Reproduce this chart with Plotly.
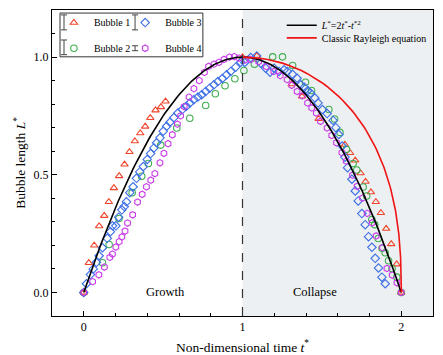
import numpy as np
import plotly.graph_objects as go

# Bubble 1 (red triangles)
t1 = [0, 0.032, 0.066, 0.097, 0.129, 0.158, 0.19, 0.223, 0.257, 0.288, 0.322, 0.356, 0.387,
      0.419, 0.452, 0.486, 0.515, 1.0, 1.09, 1.31, 1.375, 1.48, 1.645, 1.678, 1.71, 1.744,
      1.775, 1.809, 1.84, 1.872, 1.905, 1.937, 1.971, 2.0]
L1 = [0, 0.126, 0.200, 0.282, 0.326, 0.385, 0.444, 0.495, 0.544, 0.597, 0.643, 0.677, 0.705,
      0.742, 0.774, 0.788, 0.812, 1.0, 1.006, 0.885, 0.833, 0.738, 0.628, 0.593, 0.561, 0.507,
      0.471, 0.426, 0.385, 0.338, 0.271, 0.206, 0.120, 0.0]

# Bubble 2 (green circles)
t2 = [0, 0.118, 0.160, 0.222, 0.305, 0.365, 0.407, 0.485, 0.586, 0.668, 0.768, 0.829, 0.890,
      0.952, 1.009, 1.075, 1.190, 1.252, 1.316, 1.397, 1.435, 1.544, 1.580, 1.614, 1.655,
      1.697, 1.720, 1.760, 1.782, 1.815, 1.833, 1.855, 1.879, 1.899, 1.920, 1.942, 1.972, 2.0]
L2 = [0, 0.126, 0.204, 0.314, 0.424, 0.494, 0.548, 0.626, 0.699, 0.740, 0.794, 0.844, 0.878,
      0.908, 0.943, 0.970, 1.001, 1.001, 0.964, 0.893, 0.858, 0.777, 0.737, 0.680, 0.608,
      0.548, 0.520, 0.448, 0.410, 0.310, 0.288, 0.229, 0.188, 0.169, 0.135, 0.102, 0.065, 0.0]

# Bubble 3 (blue diamonds)
t3 = [0, 0.017, 0.042, 0.06, 0.08, 0.097, 0.118, 0.148, 0.168, 0.181, 0.202, 0.22, 0.24, 0.255,
      0.269, 0.29, 0.311, 0.332, 0.353, 0.375, 0.4, 0.421, 0.442, 0.459, 0.48, 0.501, 0.522,
      0.543, 0.568, 0.593, 0.621, 0.646, 0.669, 0.694, 0.719, 0.743, 0.768, 0.793, 0.82, 0.845,
      0.873, 0.9, 0.926, 0.957, 0.989, 1.014, 1.052, 1.09, 1.115, 1.146, 1.174, 1.199, 1.23,
      1.262, 1.283, 1.315, 1.344, 1.367, 1.39, 1.41, 1.428, 1.456, 1.476, 1.504, 1.533, 1.571,
      1.588, 1.607, 1.628, 1.645, 1.662, 1.689, 1.71, 1.729, 1.752, 1.773, 1.794, 1.815, 1.836,
      1.857, 1.878, 1.899]
L3 = [0, 0.037, 0.076, 0.10, 0.128, 0.156, 0.19, 0.23, 0.258, 0.283, 0.283, 0.32, 0.351, 0.365,
      0.385, 0.424, 0.449, 0.485, 0.512, 0.535, 0.565, 0.59, 0.614, 0.636, 0.657, 0.685, 0.706,
      0.723, 0.743, 0.762, 0.777, 0.791, 0.805, 0.819, 0.83, 0.84, 0.854, 0.868, 0.882, 0.896,
      0.909, 0.925, 0.939, 0.957, 0.978, 0.977, 0.998, 1.005, 0.974, 0.953, 0.936, 0.953, 0.939,
      0.946, 0.939, 0.927, 0.91, 0.882, 0.872, 0.857, 0.847, 0.826, 0.805, 0.777, 0.76, 0.731,
      0.70, 0.671, 0.622, 0.575, 0.53, 0.481, 0.431, 0.389, 0.335, 0.288, 0.237, 0.192, 0.145,
      0.104, 0.065, 0.037]

# Bubble 4 (magenta hexagons)
t4 = [0, 0.056, 0.095, 0.130, 0.164, 0.181, 0.202, 0.223, 0.240, 0.260, 0.276, 0.308, 0.339,
      0.368, 0.395, 0.422, 0.448, 0.480, 0.505, 0.531, 0.558, 0.59, 0.61, 0.633, 0.663, 0.694,
      0.728, 0.760, 0.786, 0.82, 0.852, 0.883, 0.918, 0.948, 0.978, 1.018, 1.05, 1.102, 1.15,
      1.197, 1.238, 1.281, 1.31, 1.344, 1.376, 1.41, 1.436, 1.465, 1.491, 1.533, 1.562, 1.592,
      1.626, 1.653, 1.693, 1.722, 1.756, 1.785, 1.817, 1.842, 1.882, 1.91, 1.943, 1.973, 2.0]
L4 = [0, 0.046, 0.075, 0.108, 0.149, 0.163, 0.193, 0.216, 0.236, 0.261, 0.295, 0.330, 0.384,
      0.417, 0.449, 0.477, 0.505, 0.551, 0.591, 0.632, 0.670, 0.715, 0.75, 0.79, 0.83, 0.866,
      0.90, 0.935, 0.96, 0.97, 0.978, 0.99, 1.0, 1.002, 0.996, 0.988, 0.99, 0.981, 0.96,
      0.939, 0.921, 0.904, 0.88, 0.854, 0.835, 0.805, 0.784, 0.762, 0.727, 0.699, 0.667, 0.636,
      0.594, 0.558, 0.498, 0.451, 0.401, 0.336, 0.296, 0.24, 0.19, 0.102, 0.074, 0.041, 0.0]

# model curves
t_model = np.linspace(0, 2, 201)
L_model = 2 * t_model - t_model ** 2
s = 1 - np.geomspace(1, 1e-5, 200)
t_ray = np.concatenate([1 + s, [2.0]])
L_ray = np.clip(1 - (t_ray - 1) ** 2, 0, None) ** 0.4

FONT = "Liberation Serif, Times New Roman, serif"

fig = go.Figure()

fig.add_vrect(x0=1, x1=2.2, fillcolor="#EDF0F2", line_width=0, layer="below")
fig.add_vline(x=1, line_dash="dash", line_color="#333333", line_width=1.2)

bubbles = [
    ("Bubble 1", t1, L1, "triangle-up-open", "#F0452A", "legend"),
    ("Bubble 2", t2, L2, "circle-open", "#3FAE4F", "legend2"),
    ("Bubble 3", t3, L3, "diamond-open", "#3D6FE6", "legend3"),
    ("Bubble 4", t4, L4, "hexagon-open", "#C83AE8", "legend4"),
]
for name, t, L, sym, col, lg in bubbles:
    fig.add_trace(go.Scatter(
        x=t, y=L, mode="markers", name=name, legend=lg, showlegend=True,
        marker=dict(symbol=sym, size=6.5, color=col, line=dict(width=1.1, color=col)),
    ))

fig.add_trace(go.Scatter(x=t_model, y=L_model, mode="lines", legend="legend5",
                         name="<i>L</i><sup>*</sup>=2<i>t</i><sup>*</sup>-<i>t</i><sup>*2</sup>",
                         line=dict(color="black", width=1.6)))
fig.add_trace(go.Scatter(x=t_ray, y=L_ray, mode="lines", legend="legend6",
                         name="Classic Rayleigh equation",
                         line=dict(color="#F01414", width=1.6)))

fig.add_annotation(x=0.515, y=0.0, text="Growth", showarrow=False,
                   font=dict(family=FONT, size=12.5, color="black"))
fig.add_annotation(x=1.455, y=0.0, text="Collapse", showarrow=False,
                   font=dict(family=FONT, size=12.5, color="black"))

# legend box
fig.add_shape(type="rect", xref="paper", yref="paper", x0=0.021, x1=0.396, y0=0.847, y1=0.990,
              line=dict(color="#333333", width=1), fillcolor="white", layer="below")

# error bar glyphs in the legend
for gx, ytop, ybot in [(0.0315, 0.984, 0.935), (0.0315, 0.902, 0.854),
                       (0.218, 0.984, 0.935), (0.218, 0.883, 0.867)]:
    fig.add_shape(type="line", xref="paper", yref="paper", x0=gx, x1=gx, y0=ybot, y1=ytop,
                  line=dict(color="#444444", width=1))
    for yy in (ybot, ytop):
        fig.add_shape(type="line", xref="paper", yref="paper", x0=gx - 0.008, x1=gx + 0.008,
                      y0=yy, y1=yy, line=dict(color="#444444", width=1))

leg_font = dict(family=FONT, size=10, color="black")
leg_common = dict(bgcolor="rgba(0,0,0,0)", borderwidth=0, xanchor="left", yanchor="middle",
                  font=leg_font, itemwidth=30)
lx1 = 0.005
lx2 = 0.192
fig.update_layout(
    showlegend=True,
    legend=dict(x=lx1, y=0.959, **leg_common),
    legend2=dict(x=lx1, y=0.875, **leg_common),
    legend3=dict(x=lx2, y=0.959, **leg_common),
    legend4=dict(x=lx2, y=0.875, **leg_common),
    legend5=dict(x=0.603, y=0.950, **leg_common),
    legend6=dict(x=0.603, y=0.909, **leg_common),
)

fig.update_layout(
    width=443, height=355,
    margin=dict(l=52, r=10, t=8, b=39),
    plot_bgcolor="white", paper_bgcolor="white",
    font=dict(family=FONT, size=12, color="black"),
    xaxis=dict(
        range=[-0.2, 2.2], tickvals=[0, 1, 2], ticks="inside", ticklen=5, tickwidth=1,
        tickcolor="black", showline=True, linecolor="black", linewidth=1, mirror=True,
        showgrid=False, zeroline=False, automargin=False,
        minor=dict(dtick=0.2, ticks="inside", ticklen=3, tickcolor="black", showgrid=False),
        title=dict(text="Non-dimensional time <i>t</i><sup>*</sup>", font=dict(size=13.5)),
        tickfont=dict(size=12),
    ),
    yaxis=dict(
        range=[-0.1, 1.2], tickvals=[0, 0.5, 1.0], tickformat=".1f", ticks="inside", ticklen=5,
        tickwidth=1, tickcolor="black", showline=True, linecolor="black", linewidth=1,
        mirror=True, showgrid=False, zeroline=False, automargin=False,
        minor=dict(dtick=0.1, ticks="inside", ticklen=3, tickcolor="black", showgrid=False),
        title=dict(text="Bubble length <i>L</i><sup>*</sup>", font=dict(size=13.5), standoff=4),
        tickfont=dict(size=12),
    ),
)

fig.write_html("out.html", config={"displayModeBar": False},
               post_script="document.body.style.margin='0px';")
